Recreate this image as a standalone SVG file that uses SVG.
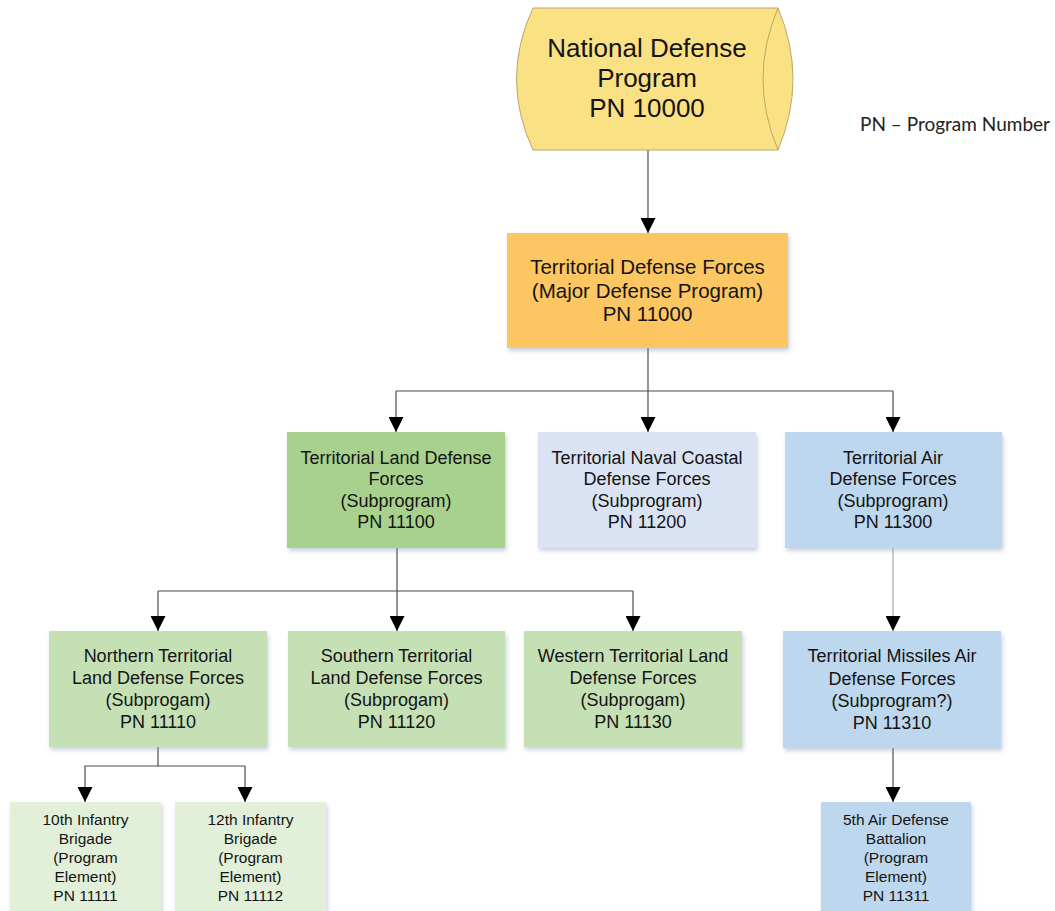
<svg xmlns="http://www.w3.org/2000/svg" width="1055" height="911" viewBox="0 0 1055 911">
  <style>
    text { font-family: "Liberation Sans", Arial, sans-serif; fill: #141414; text-anchor: middle; }
    .t26 { font-size: 26px; }
    .t20 { font-size: 20.5px; }
    .t18 { font-size: 18px; }
    .t15 { font-size: 15.5px; }
    .box { filter: url(#shadow); }
    .link { fill: none; stroke: #4d4d4d; stroke-width: 1.2; marker-end: url(#arrow); }
    .link-light { fill: none; stroke: #a8a8a8; stroke-width: 1.2; marker-end: url(#arrow); }
    .legend { font-family: Lato, "Open Sans", sans-serif; font-size: 18.5px; text-anchor: start; fill: #222; }
  </style>
  <defs>
    <filter id="shadow" x="-10%" y="-10%" width="125%" height="130%">
      <feDropShadow dx="1.5" dy="3" stdDeviation="2" flood-color="#8a9bb8" flood-opacity="0.45"/>
    </filter>
    <marker id="arrow" markerUnits="userSpaceOnUse" markerWidth="16" markerHeight="15" refX="15" refY="7.5" orient="auto">
      <path d="M0,0 L15,7.5 L0,15 z" fill="#000"/>
    </marker>
  </defs>

  <rect width="1055" height="911" fill="#ffffff"/>

  <!-- connectors -->
  <g id="connectors">
    <path class="link" d="M648,150 V233"/>
    <path class="link" d="M648,348 V432"/>
    <path class="link" d="M396,391 H893 M396,391 V432"/>
    <path class="link" d="M893,391 V432"/>
    <path class="link" d="M397,548 V631"/>
    <path class="link" d="M158,591 H633 M158,591 V631"/>
    <path class="link" d="M633,591 V631"/>
    <path class="link" d="M158,747 V766 H85 V802"/>
    <path class="link" d="M158,766 H245 V802"/>
    <path class="link-light" d="M893,548 V631"/>
    <path class="link" d="M893,748 V802"/>
  </g>

  <!-- program root: drum-shaped storage symbol -->
  <g id="node-national">
    <path d="M533,8 H778 Q808,79 778,150 H533 Q500,79 533,8 z" fill="#f9e184" stroke="#b9a86a" stroke-width="1"/>
    <path d="M778,8 Q748,79 778,150" fill="none" stroke="#b9a86a" stroke-width="1"/>
    <text class="t26" x="647" y="56.5">National Defense</text>
    <text class="t26" x="647" y="86.5">Program</text>
    <text class="t26" x="647" y="116.5">PN 10000</text>
  </g>

  <g id="node-tdf">
    <rect class="box" x="507" y="233" width="281" height="115" fill="#fcc663"/>
    <text class="t20" x="647.5" y="274">Territorial Defense Forces</text>
    <text class="t20" x="647.5" y="297.5">(Major Defense Program)</text>
    <text class="t20" x="647.5" y="321">PN 11000</text>
  </g>

  <g id="node-land">
    <rect class="box" x="287" y="432" width="218" height="116" fill="#a8d18d"/>
    <text class="t18" x="396" y="463.5">Territorial Land Defense</text>
    <text class="t18" x="396" y="485">Forces</text>
    <text class="t18" x="396" y="506.5">(Subprogram)</text>
    <text class="t18" x="396" y="528">PN 11100</text>
  </g>

  <g id="node-naval">
    <rect class="box" x="538" y="432" width="218" height="116" fill="#dae3f3"/>
    <text class="t18" x="647" y="463.5">Territorial Naval Coastal</text>
    <text class="t18" x="647" y="485">Defense Forces</text>
    <text class="t18" x="647" y="506.5">(Subprogram)</text>
    <text class="t18" x="647" y="528">PN 11200</text>
  </g>

  <g id="node-air">
    <rect class="box" x="785" y="432" width="217" height="116" fill="#bdd7ee"/>
    <text class="t18" x="893" y="463.5">Territorial Air</text>
    <text class="t18" x="893" y="485">Defense Forces</text>
    <text class="t18" x="893" y="506.5">(Subprogram)</text>
    <text class="t18" x="893" y="528">PN 11300</text>
  </g>

  <g id="node-northern">
    <rect class="box" x="49" y="631" width="218" height="116" fill="#c5e0b4"/>
    <text class="t18" x="158" y="662">Northern Territorial</text>
    <text class="t18" x="158" y="684">Land Defense Forces</text>
    <text class="t18" x="158" y="706">(Subprogam)</text>
    <text class="t18" x="158" y="728">PN 11110</text>
  </g>

  <g id="node-southern">
    <rect class="box" x="288" y="631" width="217" height="116" fill="#c5e0b4"/>
    <text class="t18" x="396.5" y="662">Southern Territorial</text>
    <text class="t18" x="396.5" y="684">Land Defense Forces</text>
    <text class="t18" x="396.5" y="706">(Subprogam)</text>
    <text class="t18" x="396.5" y="728">PN 11120</text>
  </g>

  <g id="node-western">
    <rect class="box" x="524" y="631" width="218" height="116" fill="#c5e0b4"/>
    <text class="t18" x="633" y="662">Western Territorial Land</text>
    <text class="t18" x="633" y="684">Defense Forces</text>
    <text class="t18" x="633" y="706">(Subprogam)</text>
    <text class="t18" x="633" y="728">PN 11130</text>
  </g>

  <g id="node-missiles">
    <rect class="box" x="783" y="631" width="218" height="117" fill="#bdd7ee"/>
    <text class="t18" x="892" y="662">Territorial Missiles Air</text>
    <text class="t18" x="892" y="684.5">Defense Forces</text>
    <text class="t18" x="892" y="706.5">(Subprogram?)</text>
    <text class="t18" x="892" y="728.5">PN 11310</text>
  </g>

  <g id="node-10th">
    <rect class="box" x="10" y="802" width="151" height="115" fill="#e2f0d9"/>
    <text class="t15" x="85.5" y="825">10th Infantry</text>
    <text class="t15" x="85.5" y="844">Brigade</text>
    <text class="t15" x="85.5" y="863">(Program</text>
    <text class="t15" x="85.5" y="882">Element)</text>
    <text class="t15" x="85.5" y="901">PN 11111</text>
  </g>

  <g id="node-12th">
    <rect class="box" x="175" y="802" width="151" height="115" fill="#e2f0d9"/>
    <text class="t15" x="250.5" y="825">12th Infantry</text>
    <text class="t15" x="250.5" y="844">Brigade</text>
    <text class="t15" x="250.5" y="863">(Program</text>
    <text class="t15" x="250.5" y="882">Element)</text>
    <text class="t15" x="250.5" y="901">PN 11112</text>
  </g>

  <g id="node-5th">
    <rect class="box" x="821" y="802" width="150" height="115" fill="#bdd7ee"/>
    <text class="t15" x="896" y="825">5th Air Defense</text>
    <text class="t15" x="896" y="844">Battalion</text>
    <text class="t15" x="896" y="863">(Program</text>
    <text class="t15" x="896" y="882">Element)</text>
    <text class="t15" x="896" y="901">PN 11311</text>
  </g>

  <g id="legend">
    <text class="legend" x="860" y="131" textLength="190" lengthAdjust="spacingAndGlyphs">PN – Program Number</text>
  </g>
</svg>
